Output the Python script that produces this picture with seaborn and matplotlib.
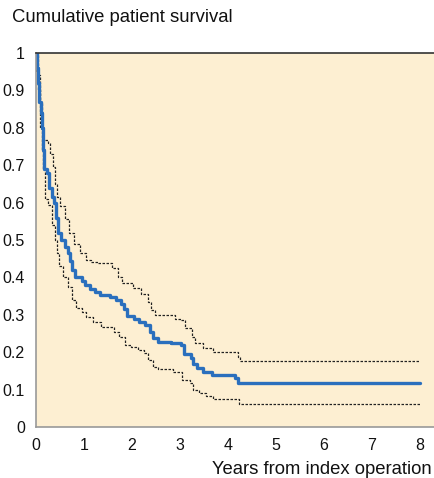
import matplotlib
matplotlib.use("Agg")
import matplotlib.pyplot as plt
import seaborn as sns
import pandas as pd

# ---- data ----
main_t = [0, 0.02, 0.05, 0.07, 0.10, 0.12, 0.15, 0.17, 0.22, 0.28, 0.33, 0.38, 0.42, 0.46,
          0.53, 0.60, 0.66, 0.71, 0.76, 0.82, 0.95, 1.02, 1.12, 1.22, 1.33, 1.55, 1.66,
          1.78, 1.83, 1.90, 2.05, 2.14, 2.28, 2.38, 2.44, 2.55, 2.82, 3.02, 3.08, 3.22,
          3.28, 3.35, 3.48, 3.66, 4.14, 4.20, 8.0]
main_s = [1.0, 0.96, 0.92, 0.87, 0.84, 0.80, 0.74, 0.69, 0.68, 0.64, 0.615, 0.60, 0.56, 0.52,
          0.50, 0.48, 0.465, 0.445, 0.42, 0.402, 0.39, 0.38, 0.368, 0.36, 0.352, 0.348, 0.34,
          0.33, 0.315, 0.298, 0.29, 0.28, 0.272, 0.255, 0.238, 0.228, 0.225, 0.218, 0.195, 0.185,
          0.168, 0.157, 0.148, 0.138, 0.132, 0.117, 0.117]

upper_t = [0, 0.04, 0.08, 0.12, 0.14, 0.25, 0.30, 0.36, 0.40, 0.43, 0.50, 0.60, 0.68, 0.80,
           0.92, 1.04, 1.15, 1.30, 1.58, 1.70, 1.80, 2.02, 2.18, 2.34, 2.40, 2.47, 2.90, 3.02,
           3.10, 3.25, 3.32, 3.48, 3.69, 4.20, 4.24, 8.0]
upper_s = [1.0, 0.94, 0.87, 0.80, 0.767, 0.76, 0.73, 0.696, 0.65, 0.616, 0.59, 0.555, 0.52, 0.49,
           0.465, 0.447, 0.44, 0.438, 0.424, 0.40, 0.385, 0.371, 0.355, 0.335, 0.313, 0.299, 0.29,
           0.286, 0.264, 0.241, 0.224, 0.212, 0.200, 0.188, 0.177, 0.177]

lower_t = [0, 0.01, 0.05, 0.09, 0.12, 0.15, 0.19, 0.26, 0.33, 0.40, 0.43, 0.48, 0.56, 0.66,
           0.74, 0.83, 0.95, 1.05, 1.18, 1.35, 1.62, 1.72, 1.85, 1.98, 2.12, 2.24, 2.33, 2.44,
           2.54, 2.85, 3.05, 3.20, 3.28, 3.40, 3.55, 3.69, 4.22, 8.0]
lower_s = [1.0, 0.95, 0.90, 0.80, 0.74, 0.69, 0.61, 0.594, 0.54, 0.50, 0.464, 0.43, 0.40, 0.375,
           0.34, 0.317, 0.308, 0.293, 0.282, 0.268, 0.255, 0.241, 0.219, 0.213, 0.206, 0.197, 0.179,
           0.161, 0.154, 0.148, 0.126, 0.117, 0.10, 0.09, 0.084, 0.075, 0.061, 0.061]

x_ticks = [0, 1, 2, 3, 4, 5, 6, 7, 8]
y_ticks = [0, 0.1, 0.2, 0.3, 0.4, 0.5, 0.6, 0.7, 0.8, 0.9, 1]
y_labels = ["0", "0.1", "0.2", "0.3", "0.4", "0.5", "0.6", "0.7", "0.8", "0.9", "1"]

title = "Cumulative patient survival"
xlabel = "Years from index operation"

sns.set_style("white")
plt.rcParams['font.family'] = ['Liberation Sans', 'DejaVu Sans']

fig = plt.figure(figsize=(4.35, 4.78), dpi=100)
ax = fig.add_axes([36/435, 51/478, 399/435, 374/478])
ax.set_facecolor("#fdefd2")

df_main = pd.DataFrame({"t": main_t, "s": main_s})
df_up = pd.DataFrame({"t": upper_t, "s": upper_s})
df_lo = pd.DataFrame({"t": lower_t, "s": lower_s})

sns.lineplot(data=df_up, x="t", y="s", ax=ax, color="#222222", lw=0.9,
             drawstyle="steps-post", dashes=False, linestyle=(0, (2, 1.2)), estimator=None)
sns.lineplot(data=df_lo, x="t", y="s", ax=ax, color="#222222", lw=0.9,
             drawstyle="steps-post", dashes=False, linestyle=(0, (2, 1.2)), estimator=None)
sns.lineplot(data=df_main, x="t", y="s", ax=ax, color="#2a6fbd", lw=2.4,
             drawstyle="steps-post", estimator=None)

ax.set_xlim(0, 399/48.0)
ax.set_ylim(0, 1)
ax.set_xticks(x_ticks)
ax.set_xticklabels([str(v) for v in x_ticks])
ax.set_yticks(y_ticks)
ax.set_yticklabels(y_labels)
ax.set_xlabel("")
ax.set_ylabel("")

for side in ["left", "bottom"]:
    ax.spines[side].set_color("#999999")
    ax.spines[side].set_linewidth(1.2)
ax.spines["top"].set_color("#333333")
ax.spines["top"].set_linewidth(1.2)
ax.spines["right"].set_visible(False)

ax.tick_params(axis="both", direction="out", length=4, width=1, color="#999999",
               labelsize=11.5, labelcolor="#111111", pad=3)
ax.tick_params(axis="y", length=3, pad=5)
ax.tick_params(axis="x", pad=4)

fig.text(12/435, 1 - 18/478, title, fontsize=13.3, ha="left", va="center", color="#111111")
fig.text(432/435, 1 - 469/478, xlabel, fontsize=13.3, ha="right", va="center", color="#111111")

fig.savefig("out.png", dpi=100)
